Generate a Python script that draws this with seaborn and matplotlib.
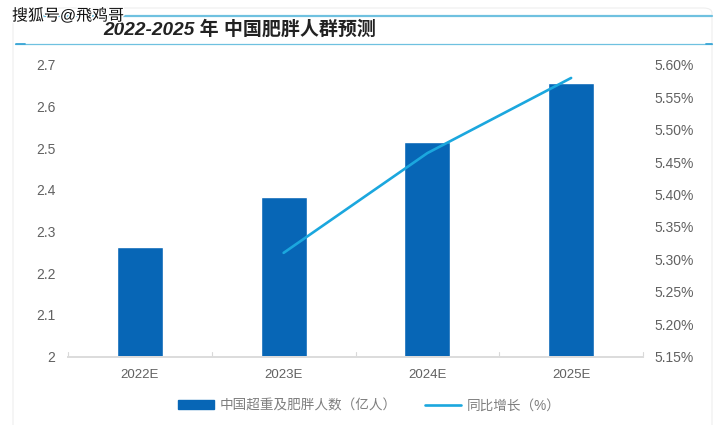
import matplotlib as mpl
mpl.use('Agg')
import matplotlib.pyplot as plt
import matplotlib.patheffects as pe
from matplotlib.lines import Line2D
from matplotlib.patches import FancyBboxPatch, Patch
import numpy as np
import pandas as pd
import seaborn as sns

years = ['2022E', '2023E', '2024E', '2025E']
obese_people = [2.262, 2.382, 2.515, 2.657]
growth_pct = [np.nan, 5.31, 5.464, 5.58]
left_ticks = [2, 2.1, 2.2, 2.3, 2.4, 2.5, 2.6, 2.7]
left_labels = ['2', '2.1', '2.2', '2.3', '2.4', '2.5', '2.6', '2.7']
right_ticks = [5.15, 5.20, 5.25, 5.30, 5.35, 5.40, 5.45, 5.50, 5.55, 5.60]

W, H = 723, 425
BAR_BLUE = '#0766b6'
LINE_BLUE = '#1ba7de'
RULE_BLUE = '#6fc1e0'
TEXT_GREY = '#616161'

sns.set_theme(style='white')
plt.rcParams['font.family'] = ['Liberation Sans', 'Noto Sans CJK SC', 'DejaVu Sans']

df = pd.DataFrame({'year': years, 'people': obese_people, 'growth': growth_pct})

fig = plt.figure(figsize=(W / 100, H / 100), dpi=100)
ax = fig.add_axes([68 / W, 1 - 356.5 / H, (643 - 68) / W, (356.5 - 65) / H])

sns.barplot(data=df, x='year', y='people', color=BAR_BLUE, saturation=1, width=0.32, ax=ax)
ax.set_xlim(-0.5, 3.5)
ax.set_ylim(2, 2.7)
ax.set_yticks(left_ticks, left_labels)
ax.set_xlabel('')
ax.set_ylabel('')
ax.tick_params(axis='x', length=0, labelsize=9.5, labelcolor=TEXT_GREY, pad=9)
ax.tick_params(axis='y', length=0, labelsize=10, labelcolor=TEXT_GREY, pad=9)

ax2 = ax.twinx()
sns.lineplot(data=df, x='year', y='growth', color=LINE_BLUE, linewidth=1.9, ax=ax2)
ax2.set_ylim(5.15, 5.60)
ax2.set_yticks(right_ticks, [f'{v:.2f}%' for v in right_ticks])
ax2.set_xlim(-0.5, 3.5)
ax2.set_xlabel('')
ax2.set_ylabel('')
ax2.tick_params(axis='y', length=0, labelsize=10, labelcolor=TEXT_GREY, pad=8.5)

for a in (ax, ax2):
    for side in ('top', 'left', 'right'):
        a.spines[side].set_visible(False)
    a.spines['bottom'].set_color('#dcdcdc')
    a.spines['bottom'].set_linewidth(1.4)
# small ticks between categories and at both ends of the baseline
for x in (-0.5, 0.5, 1.5, 2.5, 3.5):
    ax.plot([x, x], [0, 0.014], color='#d9d9d9', lw=0.8, transform=ax.get_xaxis_transform(),
            clip_on=False)

handles = [Patch(color=BAR_BLUE), Line2D([], [], color=LINE_BLUE, lw=1.9)]
fig.legend(
    handles, ['中国超重及肥胖人数（亿人）', '同比增长（%）'],
    loc='center', bbox_to_anchor=(369 / W, 1 - 405.5 / H), ncol=2, frameon=False,
    fontsize=9.8, labelcolor='#7f7f7f', handlelength=2.65, handleheight=0.6,
    columnspacing=2.1, handletextpad=0.4,
)

# report page furniture: frame, two rules, title and watermark
fig.add_artist(FancyBboxPatch(
    (13 / W, 1 - 440 / H), 699 / W, 432 / H, boxstyle='round,pad=0,rounding_size=0.012',
    transform=fig.transFigure, fc='none', ec='#eeeeee', lw=0.8,
))
fig.add_artist(Line2D([13 / W, 712 / W], [1 - 15.5 / H] * 2, color=RULE_BLUE, lw=1.6))
fig.add_artist(Line2D([15 / W, 712 / W], [1 - 44 / H] * 2, color=RULE_BLUE, lw=0.9))
fig.add_artist(Line2D([16 / W, 25 / W], [1 - 44 / H] * 2, color='#3aa6d6', lw=1.3))
fig.add_artist(Line2D([706 / W, 712 / W], [1 - 44 / H] * 2, color='#3aa6d6', lw=1.3))
fig.text(
    103 / W, 1 - 30 / H, '2022-2025 年 中国肥胖人群预测', fontsize=13.7, fontweight='bold',
    style='italic', color='#222222', va='center', ha='left',
)
fig.text(
    12 / W, 1 - 15.5 / H, '搜狐号@飛鸡哥', fontsize=11.5, fontweight='medium', color='#111111',
    va='center', ha='left', path_effects=[pe.withStroke(linewidth=2, foreground='white')],
)

fig.savefig('out.png', dpi=100)
